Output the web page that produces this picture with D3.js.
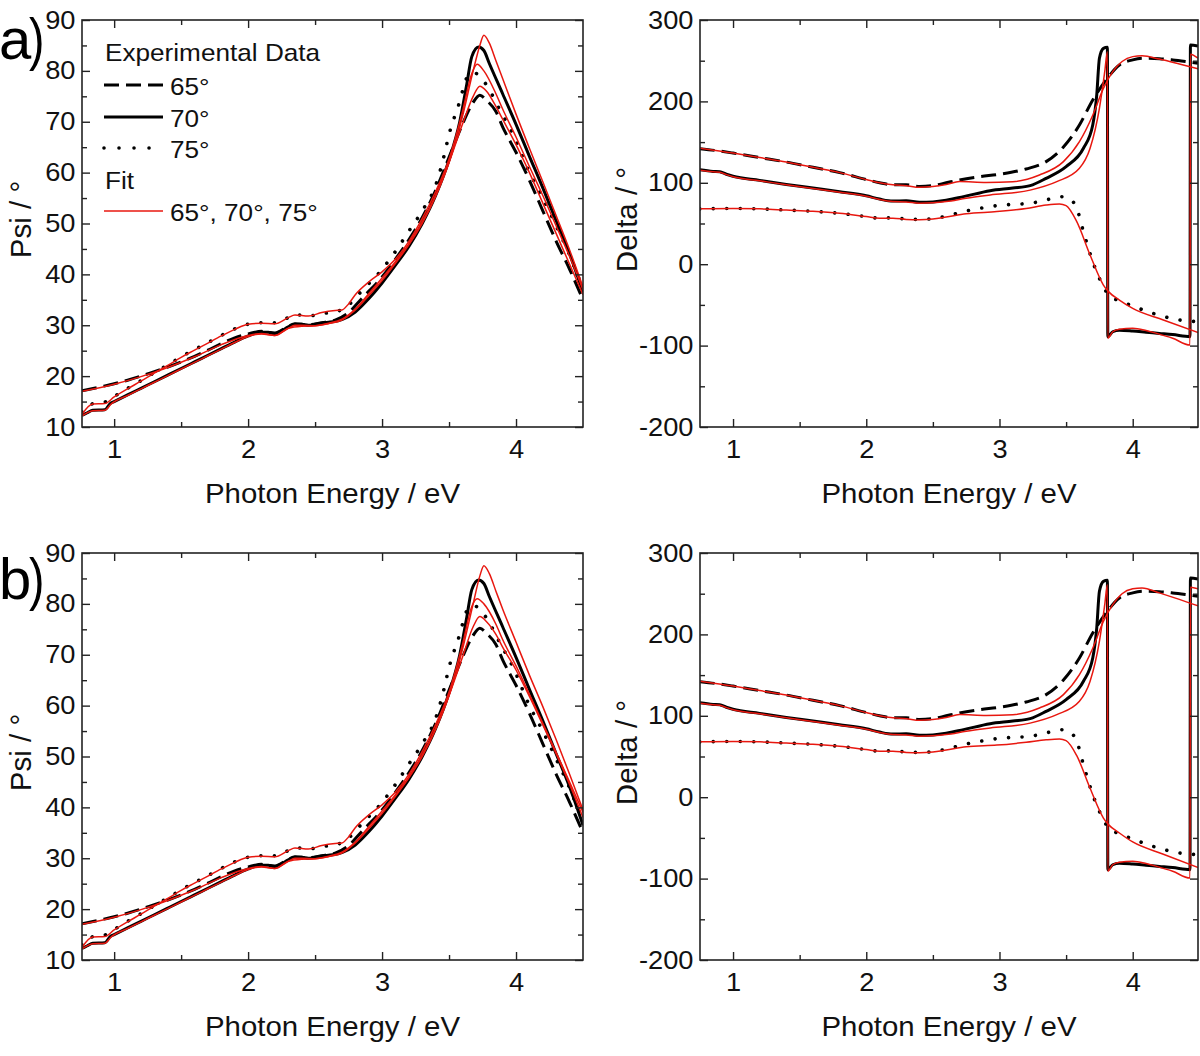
<!DOCTYPE html>
<html><head><meta charset="utf-8">
<script src="https://cdn.jsdelivr.net/npm/d3@7"></script>
<style>body{margin:0;background:#fff}svg{display:block}</style>
</head><body>
<svg id="c" width="1200" height="1056"></svg>
<script>
// ---------- tick labels ----------
const xTicks = [1, 2, 3, 4];
const xMinor = [1.5, 2.5, 3.5];
const psiTicks = [10, 20, 30, 40, 50, 60, 70, 80, 90];
const psiMinor = [15, 25, 35, 45, 55, 65, 75, 85];
const deltaTicks = [-200, -100, 0, 100, 200, 300];
const deltaMinor = [-150, -50, 50, 150, 250];

// ---------- Psi experimental (shared by a and b) ----------
const psi65E = [0.76,0.9,1.0,1.1,1.2,1.3,1.4,1.5,1.6,1.7,1.8,1.9,2.0,2.1,2.2,2.3,2.35,2.45,2.55,2.65,2.75,2.85,3.0,3.1,3.2,3.3,3.4,3.5,3.6,3.68,3.73,3.78,3.85,3.9,4.0,4.1,4.2,4.3,4.4,4.5];
const psi65 = [17.1,17.9,18.5,19.2,20.0,20.9,21.8,22.8,23.9,25.1,26.4,27.5,28.3,28.8,28.5,29.8,30.3,30.1,30.5,31.0,32.5,35.3,39.5,43.0,46.8,51.2,56.5,63.0,69.5,73.8,75.2,74.2,72.0,69.0,64.0,58.5,52.5,46.5,41.0,35.0];
const psi70E = [0.76,0.8,0.84,0.93,0.97,1.0,1.1,1.2,1.3,1.4,1.5,1.6,1.7,1.8,1.9,2.0,2.05,2.1,2.15,2.2,2.25,2.3,2.35,2.4,2.45,2.5,2.6,2.7,2.8,2.9,3.0,3.1,3.2,3.3,3.4,3.5,3.58,3.63,3.67,3.72,3.76,3.8,3.9,4.0,4.1,4.2,4.3,4.4,4.5];
const psi70 = [12.3,12.8,13.3,13.4,14.6,15.0,16.3,17.6,18.9,20.2,21.5,22.8,24.1,25.4,26.7,27.9,28.4,28.6,28.6,28.3,28.9,29.7,30.2,30.2,30.0,30.2,30.6,31.1,32.6,35.2,38.3,41.8,45.5,50.0,55.5,62.5,70.0,77.0,82.8,84.7,84.0,81.5,75.5,69.5,63.2,57.0,50.5,44.0,36.5];
const psi75E = [0.76,0.8,0.84,0.93,1.0,1.1,1.2,1.3,1.4,1.5,1.6,1.7,1.8,1.9,2.0,2.1,2.2,2.3,2.35,2.45,2.55,2.65,2.75,2.85,3.0,3.1,3.2,3.3,3.4,3.46,3.5,3.58,3.63,3.68,3.72,3.78,3.88,3.98,4.1,4.2,4.3,4.4,4.5];
const psi75 = [13.0,13.3,14.6,14.9,16.0,17.6,19.1,20.7,22.2,23.8,25.2,26.6,28.0,29.3,30.2,30.5,30.5,31.5,32.1,31.8,32.3,32.6,34.0,36.8,41.0,44.5,48.5,52.5,57.5,63.0,67.5,74.0,78.5,79.7,79.2,77.2,72.3,67.4,60.0,55.0,49.5,43.8,37.0];

// ---------- Psi fits ----------
const fitPsi65E = [0.76,1.0,1.2,1.4,1.6,1.8,2.0,2.1,2.2,2.3,2.4,2.5,2.6,2.7,2.8,2.9,3.0,3.1,3.2,3.3,3.4,3.5,3.6,3.68,3.73,3.78,3.85,3.9,4.0,4.1,4.2,4.3,4.4,4.5];
const fitPsi65a = [17.0,18.4,19.9,21.7,23.8,26.2,28.0,28.4,28.0,29.4,29.8,29.9,30.4,31.2,33.2,36.2,39.3,42.5,46.0,50.3,55.6,62.0,69.5,75.0,77.0,76.0,73.0,70.5,65.5,60.0,54.0,48.0,42.0,36.0];
const fitPsi65b = [17.0,18.4,19.9,21.7,23.8,26.2,28.0,28.4,28.0,29.4,29.8,29.9,30.4,31.2,33.2,36.2,39.3,42.5,46.0,50.3,55.6,62.0,69.5,75.5,77.5,76.5,74.0,71.5,67.0,61.8,56.2,50.5,44.5,38.0];
const fitPsi70E = [0.76,0.84,0.93,0.98,1.1,1.2,1.3,1.4,1.5,1.6,1.7,1.8,1.9,2.0,2.1,2.2,2.3,2.35,2.4,2.5,2.6,2.7,2.8,2.9,3.0,3.1,3.2,3.3,3.4,3.5,3.6,3.68,3.73,3.76,3.8,3.85,3.9,4.0,4.1,4.2,4.3,4.4,4.5];
const fitPsi70a = [12.2,13.2,13.3,14.6,16.2,17.5,18.8,20.1,21.4,22.7,24.0,25.3,26.6,27.8,28.3,28.0,29.4,30.0,30.0,29.9,30.3,31.0,33.0,35.8,38.8,42.2,45.8,50.0,55.3,62.0,71.0,80.0,85.0,87.0,85.5,82.0,78.5,71.5,64.8,58.2,51.5,44.8,37.5];
const fitPsi70b = [12.2,13.2,13.3,14.6,16.2,17.5,18.8,20.1,21.4,22.7,24.0,25.3,26.6,27.8,28.3,28.0,29.4,30.0,30.0,29.9,30.3,31.0,33.0,35.8,38.8,42.2,45.8,50.0,55.3,62.0,71.0,80.0,85.5,87.5,86.0,82.5,79.0,72.5,66.0,59.8,53.3,46.5,39.5];
const fitPsi75E = [0.76,0.84,0.93,1.0,1.1,1.2,1.3,1.4,1.5,1.6,1.7,1.8,1.9,2.0,2.1,2.2,2.3,2.35,2.45,2.55,2.65,2.7,2.75,2.8,2.9,3.0,3.1,3.2,3.3,3.4,3.5,3.6,3.67,3.71,3.76,3.85,3.9,4.0,4.1,4.2,4.3,4.4,4.5];
const fitPsi75a = [12.5,14.5,14.6,15.9,17.5,19.0,20.6,22.1,23.7,25.1,26.5,27.9,29.2,30.2,30.4,30.3,31.5,32.0,31.8,32.5,32.9,33.0,34.2,36.0,38.5,40.5,43.0,46.5,51.0,56.3,62.7,72.0,79.5,81.3,80.0,75.5,72.5,67.0,61.2,55.5,49.5,43.5,37.0];
const fitPsi75b = [12.5,14.5,14.6,15.9,17.5,19.0,20.6,22.1,23.7,25.1,26.5,27.9,29.2,30.2,30.4,30.3,31.5,32.0,31.8,32.5,32.9,33.0,34.2,36.0,38.5,40.5,43.0,46.5,51.0,56.3,62.7,72.0,79.5,81.0,80.0,76.0,73.0,67.8,62.2,56.5,50.8,45.0,39.0];

// ---------- Delta experimental (shared) ----------
const del65E = [0.75,0.9,1.0,1.2,1.4,1.6,1.8,2.0,2.1,2.2,2.3,2.4,2.5,2.6,2.7,2.85,3.0,3.2,3.35,3.48,3.6,3.7,3.8,3.9,4.0,4.08,4.2,4.3,4.4,4.49];
const del65 = [142,139,136.5,131,125.5,119,112.5,104,100,97.5,97.5,95.5,96.5,100,103.5,107.5,110.5,117,126,144,171,201.7,226.3,244.7,251,253,252.5,251,249,247];
const del70E = [0.75,0.85,0.9,0.95,1.0,1.2,1.4,1.6,1.8,2.0,2.1,2.2,2.3,2.4,2.5,2.6,2.73,2.93,3.1,3.23,3.35,3.5,3.63,3.7,3.73,3.75,3.78,3.81,3.813,3.85,3.9,4.0,4.1,4.2,4.3,4.43,4.433,4.49];
const del70 = [116,114,113.5,110.5,108,103,98,93.5,89,84,80,77.5,78,76,76.5,78.5,83,90.3,93.5,96.5,105.5,119.9,142.4,171,207.9,253,265.2,266.5,-89,-83,-81,-82,-83.5,-85,-86.5,-89,269.3,268];
const del75E = [0.75,1.0,1.2,1.4,1.6,1.8,2.0,2.1,2.2,2.3,2.4,2.5,2.6,2.73,2.85,2.98,3.1,3.23,3.35,3.48,3.53,3.58,3.63,3.7,3.75,3.82,3.9,3.98,4.15,4.35,4.49];
const del75 = [68,68.5,68,66.5,65,62.5,58.5,56.5,57,55.5,55,56,59,64.6,68.5,71.9,73.5,74.8,79,83,80,68.7,40,3.1,-17.4,-37.8,-45,-50.1,-60.3,-68.5,-70.6];

// ---------- Delta fits ----------
const fitDel65E = [0.75,1.0,1.2,1.4,1.6,1.8,2.0,2.1,2.2,2.3,2.4,2.5,2.6,2.7,2.9,3.1,3.3,3.48,3.6,3.7,3.78,3.85,3.92,4.0,4.07,4.2,4.35,4.49];
const fitDel65a = [142.5,136.5,131,125.5,119,112.5,104,100,97.5,96.5,94.5,95.5,98,101.5,100.5,101.4,109.6,126,150.5,183,216,236.5,249,255,256,252,246,240];
const fitDel65b = [142.5,136.5,131,125.5,119,112.5,104,100,97.5,96.5,94.5,95.5,98,101.5,100.5,101.4,109.6,126,150.5,183,216,236.5,250,256,257,251,243,235];
const fitDel70E = [0.75,0.85,0.9,0.95,1.0,1.2,1.4,1.6,1.8,2.0,2.1,2.2,2.3,2.4,2.5,2.6,2.75,2.93,3.23,3.43,3.6,3.68,3.75,3.79,3.81,3.813,3.85,3.9,4.0,4.1,4.18,4.3,4.43,4.433,4.49];
const fitDel70a = [115.5,113.5,113,110,107.5,102.5,97.5,93,88.5,83.5,79.5,77,76.5,75,75.5,77,81,85,91,101.4,117.8,142.4,191.5,236.5,261,-91,-83,-80,-78.8,-81.5,-85,-91,-99.3,258,253];
const fitDel70b = [115.5,113.5,113,110,107.5,102.5,97.5,93,88.5,83.5,79.5,77,76.5,75,75.5,77,81,85,91,101.4,117.8,142.4,191.5,236.5,261,-91,-83,-80,-78.8,-81.5,-85,-91,-99.3,258,256];
const fitDel75E = [0.75,1.0,1.2,1.4,1.6,1.8,2.0,2.1,2.2,2.3,2.4,2.5,2.6,2.75,2.98,3.2,3.35,3.45,3.5,3.58,3.68,3.78,3.82,3.9,4.0,4.23,4.5];
const fitDel75a = [68,68.5,68,66.5,65,62.5,58.5,56.5,56.5,55,54.5,55.5,58,62,64.6,68.5,72.7,74,72,52.2,11.3,-25.6,-34,-44,-54.2,-68.5,-84.5];
const fitDel75b = [68,68.5,68,66.5,65,62.5,58.5,56.5,56.5,55,54.5,55.5,58,62,64,67.5,70.5,71.5,69.5,51,11,-25.6,-34,-44,-55,-70,-87];

// ---------- legend ----------
const legendTitle = "Experimental Data";
const legendExp = ["65°", "70°", "75°"];
const legendFitTitle = "Fit";
const legendFit = "65°, 70°, 75°";

// ---------- drawing ----------
const FONT = "'Liberation Sans', Arial, Helvetica, sans-serif";
const RED = "#e8170f";
const SX = 1.09; // horizontal text stretch seen in the reference
const svg = d3.select("#c");
svg.append("rect").attr("width",1200).attr("height",1056).attr("fill","#fff");

const styles = {
  dash:  {stroke:"#000", width:3, dash:"15,7", cap:"butt"},
  solid: {stroke:"#000", width:3, dash:null, cap:"butt"},
  dot:   {stroke:"#000", width:3.6, dash:"0.01,13.5", cap:"round"},
  fit:   {stroke:RED, width:1.5, dash:null, cap:"butt"}
};

function addText(parent, x, y, str, size, anchor, rot, sx) {
  const s = sx || (rot ? 1 : SX);
  return parent.append("text")
    .attr("transform", `translate(${x},${y})${rot ? " rotate(-90)" : ""} scale(${s},1)`)
    .attr("font-family", FONT).attr("font-size", size).attr("fill", "#111")
    .attr("text-anchor", anchor || "start").text(str);
}

let clipId = 0;
function drawPanel(box, xDom, yDom, yTicks, yMinor, ylabel, ylabelX, series) {
  const g = svg.append("g");
  const x = d3.scaleLinear().domain(xDom).range([box.l, box.r]);
  const y = d3.scaleLinear().domain(yDom).range([box.b, box.t]);
  const id = "clip" + (clipId++);
  svg.append("clipPath").attr("id", id).append("rect")
    .attr("x", box.l).attr("y", box.t).attr("width", box.r - box.l).attr("height", box.b - box.t);
  const lg = g.append("g").attr("clip-path", `url(#${id})`);
  const line = d3.line().x(d => x(d[0])).y(d => y(d[1])).curve(d3.curveMonotoneX);
  series.forEach(s => {
    const st = styles[s.style];
    const pts = s.E.map((e, i) => [e, s.V[i]]);
    lg.append("path").attr("d", line(pts)).attr("fill", "none")
      .attr("stroke", st.stroke).attr("stroke-width", st.width)
      .attr("stroke-dasharray", st.dash).attr("stroke-linecap", st.cap)
      .attr("stroke-linejoin", "round");
  });
  const fmt = d => String(d);
  const styleAxis = sel => {
    sel.select(".domain").remove();
    sel.selectAll("line").attr("stroke", "#222").attr("stroke-width", 1.4);
    sel.selectAll("text").attr("font-family", FONT).attr("font-size", 25).attr("fill", "#111");
  };
  const bx = g.append("g").attr("transform", `translate(0,${box.b})`)
    .call(d3.axisBottom(x).tickValues(xTicks).tickSizeInner(-8).tickSizeOuter(0).tickPadding(13).tickFormat(fmt)).call(styleAxis);
  bx.selectAll("text").attr("transform", `scale(${SX},1)`);
  g.append("g").attr("transform", `translate(0,${box.b})`)
    .call(d3.axisBottom(x).tickValues(xMinor).tickSizeInner(-5).tickSizeOuter(0).tickFormat("")).call(styleAxis);
  g.append("g").attr("transform", `translate(0,${box.t})`)
    .call(d3.axisTop(x).tickValues(xTicks).tickSizeInner(-8).tickSizeOuter(0).tickFormat("")).call(styleAxis);
  g.append("g").attr("transform", `translate(0,${box.t})`)
    .call(d3.axisTop(x).tickValues(xMinor).tickSizeInner(-5).tickSizeOuter(0).tickFormat("")).call(styleAxis);
  const lx = g.append("g").attr("transform", `translate(${box.l},0)`)
    .call(d3.axisLeft(y).tickValues(yTicks).tickSizeInner(-8).tickSizeOuter(0).tickPadding(6).tickFormat(fmt)).call(styleAxis);
  lx.selectAll("text").attr("transform", `scale(${SX},1)`);
  g.append("g").attr("transform", `translate(${box.l},0)`)
    .call(d3.axisLeft(y).tickValues(yMinor).tickSizeInner(-5).tickSizeOuter(0).tickFormat("")).call(styleAxis);
  g.append("g").attr("transform", `translate(${box.r},0)`)
    .call(d3.axisRight(y).tickValues(yTicks).tickSizeInner(-8).tickSizeOuter(0).tickFormat("")).call(styleAxis);
  g.append("g").attr("transform", `translate(${box.r},0)`)
    .call(d3.axisRight(y).tickValues(yMinor).tickSizeInner(-5).tickSizeOuter(0).tickFormat("")).call(styleAxis);
  g.append("rect").attr("x", box.l).attr("y", box.t).attr("width", box.r - box.l).attr("height", box.b - box.t)
    .attr("fill", "none").attr("stroke", "#222").attr("stroke-width", 1.6);
  addText(g, (box.l + box.r) / 2, box.b + 76, "Photon Energy / eV", 27, "middle", false);
  addText(g, ylabelX, (box.t + box.b) / 2 - 4, ylabel, 29.5, "middle", true);
  return {x, y, g};
}

const boxes = {
  tl: {l:82, r:583, t:20, b:427},
  tr: {l:700, r:1198, t:20, b:427},
  bl: {l:82, r:583, t:553, b:960},
  br: {l:700, r:1198, t:553, b:960}
};
const xDomL = [0.76, 4.5], xDomR = [0.752, 4.49];

function psiSeries(f65, f70, f75) {
  return [
    {E:psi65E, V:psi65, style:"dash"},
    {E:psi70E, V:psi70, style:"solid"},
    {E:psi75E, V:psi75, style:"dot"},
    {E:fitPsi65E, V:f65, style:"fit"},
    {E:fitPsi70E, V:f70, style:"fit"},
    {E:fitPsi75E, V:f75, style:"fit"}
  ];
}
function delSeries(f65, f70, f75) {
  return [
    {E:del65E, V:del65, style:"dash"},
    {E:del70E, V:del70, style:"solid"},
    {E:del75E, V:del75, style:"dot"},
    {E:fitDel65E, V:f65, style:"fit"},
    {E:fitDel70E, V:f70, style:"fit"},
    {E:fitDel75E, V:f75, style:"fit"}
  ];
}

drawPanel(boxes.tl, xDomL, [10, 90], psiTicks, psiMinor, "Psi / °", 31, psiSeries(fitPsi65a, fitPsi70a, fitPsi75a));
drawPanel(boxes.tr, xDomR, [-200, 300], deltaTicks, deltaMinor, "Delta / °", 637, delSeries(fitDel65a, fitDel70a, fitDel75a));
drawPanel(boxes.bl, xDomL, [10, 90], psiTicks, psiMinor, "Psi / °", 31, psiSeries(fitPsi65b, fitPsi70b, fitPsi75b));
drawPanel(boxes.br, xDomR, [-200, 300], deltaTicks, deltaMinor, "Delta / °", 637, delSeries(fitDel65b, fitDel70b, fitDel75b));

// panel letters (letter and parenthesis set separately, as in the reference)
[["a", 59], ["b", 599]].forEach(([l, yb]) => {
  svg.append("text").attr("x", -1).attr("y", yb).attr("font-family", FONT).attr("font-size", 58).attr("fill", "#000").text(l);
  svg.append("text").attr("transform", `translate(29,${yb}) scale(0.8,1)`).attr("font-family", FONT).attr("font-size", 58).attr("fill", "#000").text(")");
});

// legend
const leg = svg.append("g");
addText(leg, 105, 61, legendTitle, 24, "start", false);
const legY = [85, 117, 148];
const legStyles = ["dash", "solid", "dot"];
legendExp.forEach((t, i) => {
  const st = styles[legStyles[i]];
  leg.append("line").attr("x1", 104).attr("x2", 163).attr("y1", legY[i]).attr("y2", legY[i])
    .attr("stroke", st.stroke).attr("stroke-width", st.width)
    .attr("stroke-dasharray", legStyles[i] === "dot" ? "0.01,15" : st.dash).attr("stroke-linecap", st.cap);
  addText(leg, 170, legY[i] + 10, t, 24, "start", false);
});
addText(leg, 105, 189, legendFitTitle, 24, "start", false);
leg.append("line").attr("x1", 104).attr("x2", 163).attr("y1", 211).attr("y2", 211)
  .attr("stroke", RED).attr("stroke-width", 1.5);
addText(leg, 170, 221, legendFit, 24, "start", false);
</script>
</body></html>
